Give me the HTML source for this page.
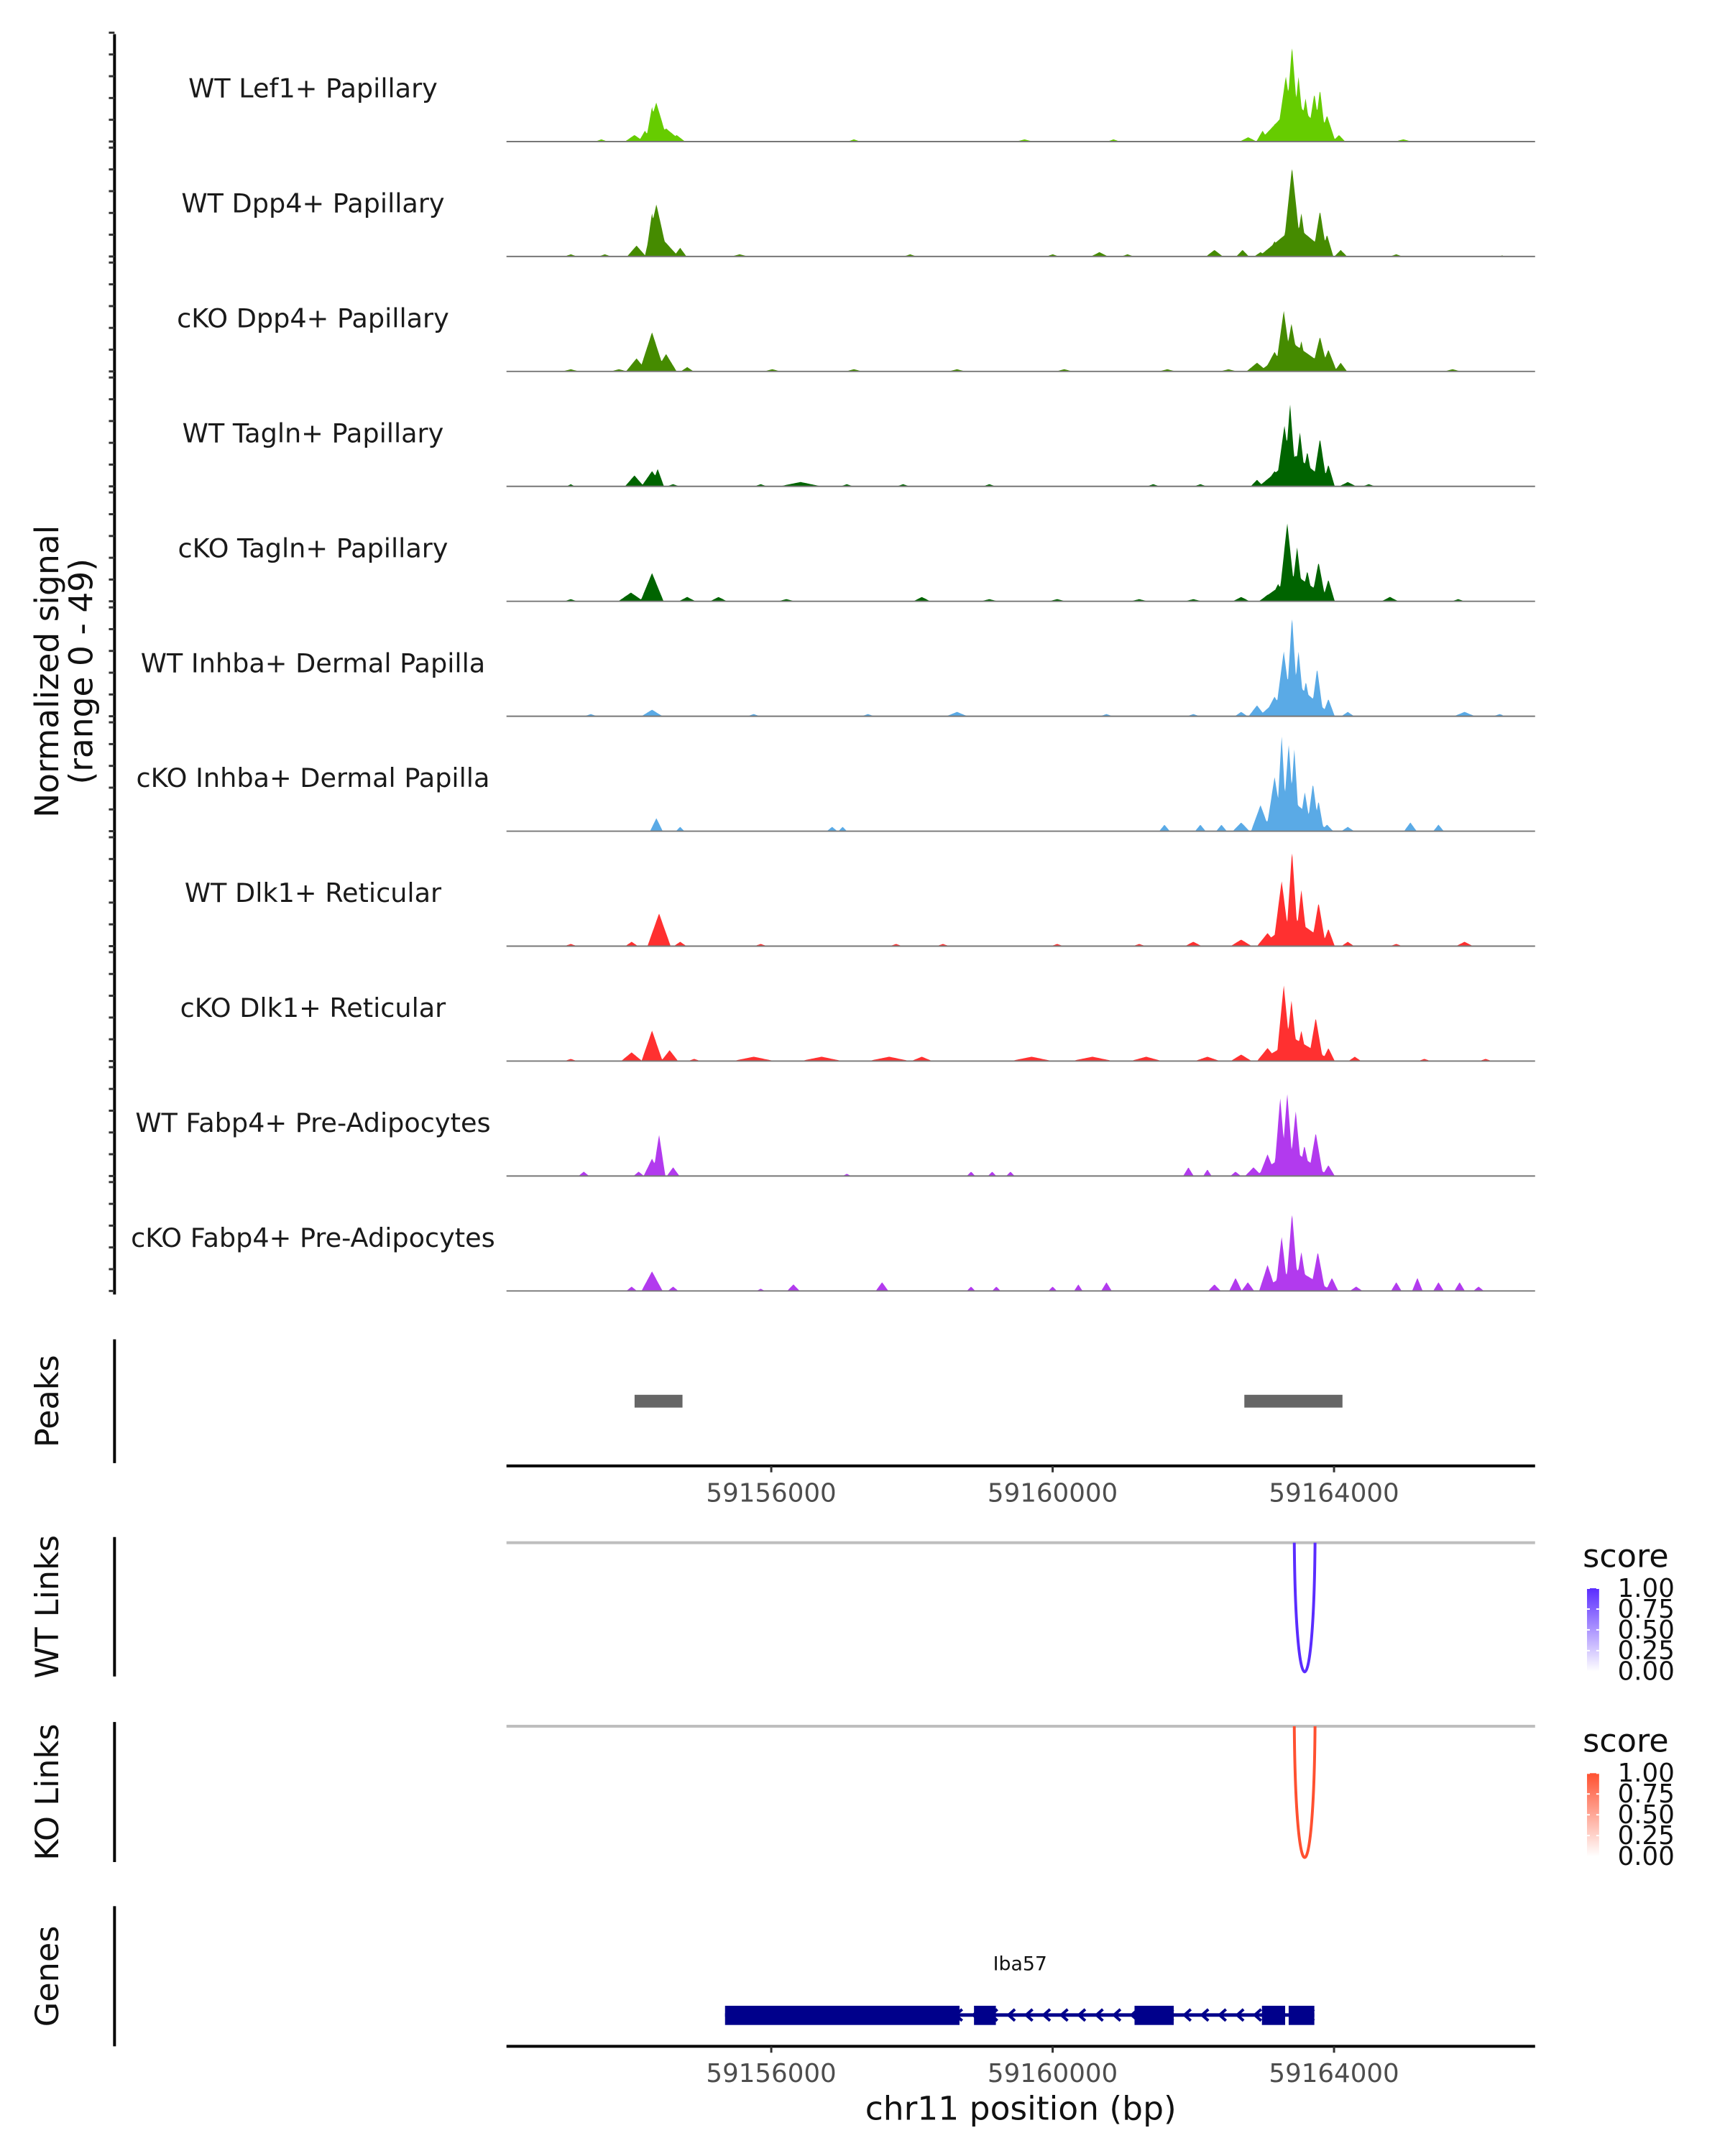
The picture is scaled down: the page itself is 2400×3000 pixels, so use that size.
<!DOCTYPE html>
<html><head><meta charset="utf-8"><style>
html,body{margin:0;padding:0;background:#fff}
svg{display:block;font-family:"DejaVu Sans","Liberation Sans",sans-serif}
</style></head><body>
<svg id="chart" width="2400" height="3000" viewBox="0 0 2400 3000" xmlns="http://www.w3.org/2000/svg">
<g transform="scale(0.9897)">
<g id="tracks"></g>
<g id="left"></g>
<g id="peaks"></g>
<g id="links"></g>
<g id="genes"></g>
</g>
</svg>
<script>
// ---- data ----
const trackNames = ["WT Lef1+ Papillary","WT Dpp4+ Papillary","cKO Dpp4+ Papillary","WT Tagln+ Papillary","cKO Tagln+ Papillary","WT Inhba+ Dermal Papilla","cKO Inhba+ Dermal Papilla","WT Dlk1+ Reticular","cKO Dlk1+ Reticular","WT Fabp4+ Pre-Adipocytes","cKO Fabp4+ Pre-Adipocytes"];
const trackColors = ["#66cc00","#458b00","#458b00","#006400","#006400","#5aaae6","#5aaae6","#ff3030","#ff3030","#b23aee","#b23aee"];
// features per track: [center bp, signal value, half-width bp]
const trackFeatures = [
 [[59153585,1,60],[59154055,3,90],[59154205,5,60],[59154365,18,110],[59154305,16,60],[59154505,6,150],[59154655,3,80],[59157175,1,60],[59159600,1,80],[59160865,1,60],[59162780,2,80],[59162985,5,60],[59163155,8,80],[59163315,30,90],[59163403,44,70],[59163495,30,60],[59163455,18,350],[59163595,20,60],[59163720,22,70],[59163800,24,60],[59163900,12,80],[59164070,3,60],[59164985,1,80]],
 [[59153150,1,60],[59153635,1,60],[59154085,5,90],[59154367,24,110],[59154305,20,60],[59154455,8,150],[59154705,4,60],[59155550,1,80],[59157975,1,60],[59160000,1,60],[59160665,2,80],[59161065,1,60],[59162300,3,80],[59162700,3,60],[59162955,2,60],[59163155,7,80],[59163403,41,90],[59163455,14,350],[59163535,20,60],[59163800,21,70],[59163900,10,60],[59164095,3,60],[59164885,1,60],[59166455,1,80]],
 [[59153150,1,80],[59153835,1,80],[59154085,6,100],[59154305,18,120],[59154505,8,100],[59154805,2,60],[59156015,1,80],[59157175,1,80],[59158640,1,80],[59160165,1,80],[59161630,1,80],[59162500,1,80],[59162905,4,100],[59163155,9,100],[59163285,28,80],[59163395,22,80],[59163455,12,350],[59163535,14,60],[59163800,16,80],[59163920,10,80],[59164095,4,60],[59165685,1,80],[59166555,1,60]],
 [[59153150,1,40],[59154055,5,90],[59154305,7,100],[59154385,8,60],[59154605,1,60],[59155850,1,60],[59156415,2,200],[59157075,1,60],[59157875,1,60],[59159100,1,60],[59161430,1,60],[59162100,1,60],[59162905,3,60],[59163155,7,100],[59163295,28,80],[59163375,38,60],[59163455,14,350],[59163515,25,60],[59163620,16,60],[59163800,22,70],[59163920,10,60],[59164195,2,80],[59164495,1,60]],
 [[59153150,1,60],[59154005,4,120],[59154305,13,110],[59154805,2,80],[59155250,2,80],[59156215,1,80],[59158140,2,80],[59159100,1,80],[59160065,1,80],[59161230,1,80],[59162000,1,80],[59162680,2,80],[59163055,3,80],[59163205,8,80],[59163335,36,80],[59163455,12,350],[59163475,25,60],[59163620,14,60],[59163780,18,70],[59163920,10,60],[59164795,2,80],[59165765,1,60]],
 [[59153435,1,60],[59154305,3,100],[59155750,1,60],[59157375,1,60],[59158640,2,100],[59160765,1,60],[59162000,1,60],[59162680,2,60],[59162905,5,80],[59163155,9,100],[59163285,30,80],[59163403,46,60],[59163455,15,350],[59163495,30,60],[59163600,16,60],[59163760,22,60],[59163920,8,60],[59164195,2,60],[59165855,2,100],[59166355,1,60]],
 [[59154367,6,60],[59154705,2,40],[59156865,2,50],[59157015,2,40],[59161590,3,50],[59162100,3,50],[59162400,3,50],[59162680,4,80],[59162955,12,90],[59163155,25,80],[59163255,44,50],[59163355,40,60],[59163435,38,50],[59163405,14,350],[59163585,18,60],[59163700,22,60],[59163780,14,50],[59163900,3,60],[59164195,2,60],[59165085,4,60],[59165485,3,50]],
 [[59153150,1,60],[59154015,2,60],[59154405,15,110],[59154705,2,60],[59155850,1,60],[59157775,1,60],[59158440,1,60],[59160065,1,60],[59161230,1,60],[59162000,2,80],[59162680,3,100],[59163055,6,100],[59163255,30,80],[59163403,44,60],[59163455,12,350],[59163535,26,60],[59163780,20,70],[59163920,8,60],[59164195,2,60],[59164885,1,60],[59165855,2,80]],
 [[59153150,1,60],[59154015,4,100],[59154305,14,100],[59154555,5,80],[59154905,1,60],[59155750,2,200],[59156715,2,200],[59157675,2,200],[59158140,2,100],[59159700,2,200],[59160565,2,200],[59161330,2,150],[59162200,2,120],[59162680,3,100],[59163055,6,100],[59163285,35,70],[59163395,28,60],[59163455,10,350],[59163535,14,60],[59163740,20,70],[59163920,6,60],[59164295,2,60],[59165285,1,60],[59166155,1,60]],
 [[59153335,2,50],[59154115,2,50],[59154305,8,80],[59154405,19,60],[59154605,4,60],[59157075,1,40],[59158840,2,40],[59159140,2,40],[59159400,2,40],[59161930,4,50],[59162200,3,40],[59162600,2,50],[59162855,4,80],[59163055,10,80],[59163235,36,60],[59163335,38,60],[59163405,12,350],[59163455,30,60],[59163580,14,60],[59163740,20,70],[59163920,5,60]],
 [[59154015,2,50],[59154305,9,100],[59154605,2,50],[59155850,1,40],[59156315,3,60],[59157575,4,60],[59158840,2,40],[59159200,2,40],[59160000,2,40],[59160365,3,40],[59160765,4,50],[59162300,3,60],[59162600,6,60],[59162775,4,60],[59163055,12,80],[59163255,25,60],[59163403,36,60],[59163455,10,350],[59163535,18,60],[59163770,18,70],[59163970,6,60],[59164315,2,60],[59164885,4,50],[59165185,6,50],[59165485,4,50],[59165785,4,50],[59166055,2,50]]
];
const peakRegions = [[59154057,59154738],[59162725,59164120]];
const linkPairs = [[59163435,59163730]];
const koLinkPairs = [[59163435,59163730]];
const linkScores = [1.0];
const koLinkScores = [1.0];
const xTicks = [59156000,59160000,59164000];
const exons = [[59155343,59158676],[59158882,59159193],[59161164,59161721],[59162975,59163305],[59163355,59163720]];
const geneSpan = [59155343,59163720];
const geneName = "Iba57";
const legendTicks = ["1.00","0.75","0.50","0.25","0.00"];

// ---- scales ----
const NS="http://www.w3.org/2000/svg";
const X0=712, X1=2158, BP0=59152236, BP1=59166858;
const xs = bp => X0 + (bp-BP0)/(BP1-BP0)*(X1-X0);
const trackH = 161.6, firstBase = 199, unitPx = 150/49, WIDEN = 1.5;
function el(tag, attrs, parent){const e=document.createElementNS(NS,tag);for(const k in attrs)e.setAttribute(k,attrs[k]);parent.appendChild(e);return e;}

const gT=document.getElementById('tracks');
trackFeatures.forEach((feats,i)=>{
  const base = firstBase + i*trackH;
  const step=10; const pts=[];
  for(let bp=BP0; bp<=59166400; bp+=step){
    let v=0;
    feats.forEach(f=>{const hw=f[2]*WIDEN;const d=Math.abs(bp-f[0]); if(d<hw){const t=f[1]*(1-d/hw); if(t>v)v=t;}});
    pts.push([xs(bp), base - v*unitPx]);
  }
  let d=`M${X0},${base}`; pts.forEach(p=>d+=`L${p[0].toFixed(1)},${p[1].toFixed(1)}`); d+=`L${pts[pts.length-1][0].toFixed(1)},${base}Z`;
  const a=el('path',{d:d,fill:trackColors[i]},gT);
  
  
  const bl=el('line',{x1:X0,x2:X1,y1:base,y2:base,stroke:'#777','stroke-width':2},gT);
  
  
  const t=el('text',{x:440,y:base-62,'text-anchor':'middle','font-size':37,fill:'#1a1a1a'},gT);
  t.textContent=trackNames[i];
  
  
});

// left axis
const gL=document.getElementById('left');
el('line',{x1:161,x2:161,y1:48,y2:1820,stroke:'#000','stroke-width':4},gL);
for(let i=0;i<11;i++){const base=firstBase+i*trackH;for(let k=0;k<=5;k++){el('line',{x1:153,x2:161,y1:base-k*10*unitPx,y2:base-k*10*unitPx,stroke:'#333','stroke-width':3},gL);}}
const yt=el('text',{transform:'translate(82,944) rotate(-90)','text-anchor':'middle','font-size':46,fill:'#111'},gL);
yt.textContent='Normalized signal';


const yt2=el('text',{transform:'translate(130,944) rotate(-90)','text-anchor':'middle','font-size':46,fill:'#111'},gL);
yt2.textContent='(range 0 - 49)';



function sideTitle(g,txt,y0,y1,name){
  el('line',{x1:161,x2:161,y1:y0,y2:y1,stroke:'#000','stroke-width':4},g);
  const t=el('text',{transform:`translate(82,${(y0+y1)/2}) rotate(-90)`,'text-anchor':'middle','font-size':45,fill:'#111'},g);
  t.textContent=txt;
  
  
}
function xAxis(g,y,name){
  el('line',{x1:X0,x2:X1,y1:y,y2:y,stroke:'#000','stroke-width':4},g);
  xTicks.forEach(v=>{
    el('line',{x1:xs(v),x2:xs(v),y1:y,y2:y+9,stroke:'#333','stroke-width':3},g);
    const t=el('text',{x:xs(v),y:y+50,'text-anchor':'middle','font-size':36,fill:'#4d4d4d'},g);
    t.textContent=v;
    
    
  });
}

// peaks
const gP=document.getElementById('peaks');
sideTitle(gP,'Peaks',1883,2057,'peaks-title');
peakRegions.forEach(r=>{
  const p=el('rect',{x:xs(r[0]),y:1961,width:xs(r[1])-xs(r[0]),height:18,fill:'#666'},gP);
  
  
});
xAxis(gP,2061,'peaks-x');

// links
const gK=document.getElementById('links');
function linkTrack(pairs,scores,top,bottom,col,title,y0,y1,legY){
  sideTitle(gK,title,y0,y1,title.toLowerCase().replace(' ','-')+'-title');
  el('line',{x1:X0,x2:X1,y1:top,y2:top,stroke:'#bebebe','stroke-width':4},gK);
  pairs.forEach((p,i)=>{
    const a=xs(p[0]),b=xs(p[1]);const depth=(bottom-top)*scores[i];
    const c=el('path',{d:`M${a},${top} C${a+2},${top+depth*1.33} ${b-2},${top+depth*1.33} ${b},${top}`,fill:'none',stroke:col,'stroke-width':4},gK);
    
    
  });
  const lt=el('text',{x:2225,y:legY,'font-size':45,fill:'#111'},gK);
  lt.textContent='score';
  
  
  const id='g'+title[0];
  const defs=el('defs',{},gK);const lg=el('linearGradient',{id:id,x1:0,y1:0,x2:0,y2:1},defs);
  el('stop',{offset:0,'stop-color':col},lg);el('stop',{offset:1,'stop-color':'#ffffff'},lg);
  const cb=el('rect',{x:2231,y:legY+30,width:17,height:117,fill:`url(#${id})`},gK);
  
  
  legendTicks.forEach((s,k)=>{
    const ty=legY+30+k*29.25;
    el('line',{x1:2231,x2:2235,y1:ty,y2:ty,stroke:'#fff','stroke-width':2},gK);
    el('line',{x1:2244,x2:2248,y1:ty,y2:ty,stroke:'#fff','stroke-width':2},gK);
    const t=el('text',{x:2274,y:ty+12,'font-size':36,fill:'#111'},gK);
    t.textContent=s;
    
    
  });
}
linkTrack(linkPairs,linkScores,2169,2351,'#5a2cff','WT Links',2161,2357,2203);
linkTrack(koLinkPairs,koLinkScores,2427,2612,'#ff5030','KO Links',2421,2618,2463);

// genes
const gG=document.getElementById('genes');
sideTitle(gG,'Genes',2680,2877,'genes-title');
el('line',{x1:xs(geneSpan[0]),x2:xs(geneSpan[1]),y1:2833,y2:2833,stroke:'#00008b','stroke-width':5},gG);
for(let bp=geneSpan[0]+300;bp<geneSpan[1];bp+=250){
  const x=xs(bp);
  el('path',{d:`M${x+7},${2825} L${x-2},${2833} L${x+7},${2841}`,fill:'none',stroke:'#00008b','stroke-width':4},gG);
}
exons.forEach(e=>{
  const r=el('rect',{x:xs(e[0]),y:2820,width:xs(e[1])-xs(e[0]),height:27,fill:'#00008b'},gG);
  
  
});
const gn=el('text',{x:1434,y:2770,'text-anchor':'middle','font-size':27,fill:'#111'},gG);
gn.textContent=geneName;


xAxis(gG,2877,'genes-x');
const xt=el('text',{x:1435,y:2980,'text-anchor':'middle','font-size':46,fill:'#111'},gG);
xt.textContent='chr11 position (bp)';


</script>
</body></html>
